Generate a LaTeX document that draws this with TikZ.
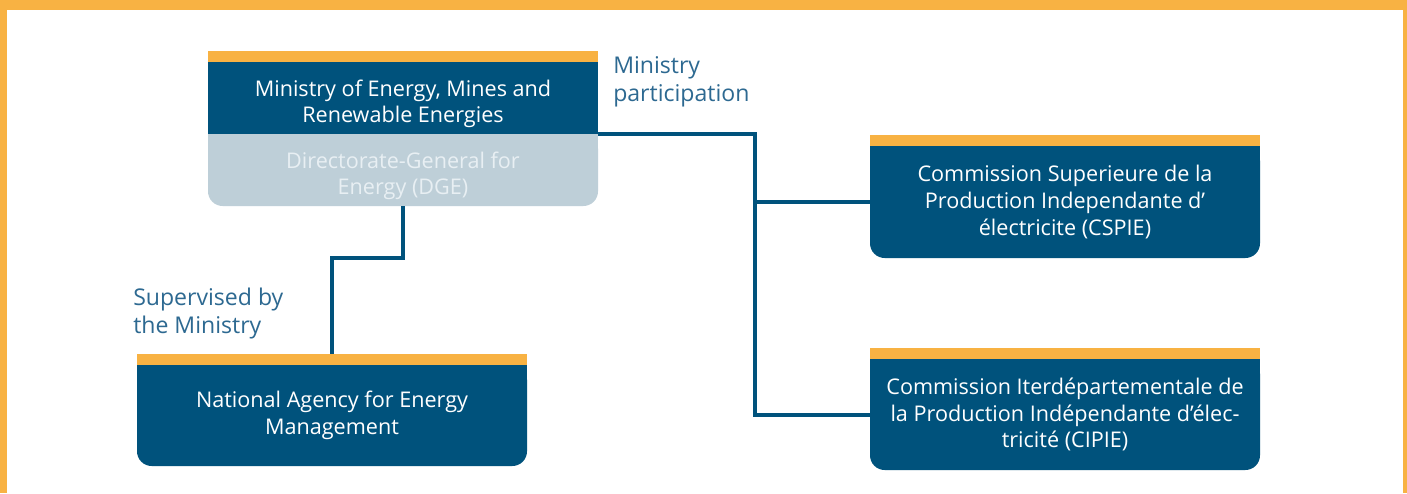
\documentclass[tikz,border=0pt]{standalone}
\usepackage{fontspec}
\setmainfont{Open Sans}
\usetikzlibrary{positioning, calc, backgrounds}

\definecolor{cardblue}{RGB}{0,82,124}
\definecolor{barorange}{RGB}{248,178,67}
\definecolor{dgegrey}{RGB}{190,207,216}
\definecolor{dgetext}{RGB}{232,239,243}
\definecolor{notecolor}{RGB}{45,105,145}

\newcommand{\dropline}{\rule{0pt}{21pt}}

\pgfdeclarelayer{frame}
\pgfsetlayers{frame,background,main}

\begin{document}
\begin{tikzpicture}[x=0.75pt, y=-0.75pt,
    card/.style={minimum width=292.5pt, inner sep=0pt, outer sep=0pt, align=center, text=white, font=\fontsize{16.2}{20}\selectfont},
    topbar/.style={fill=barorange, minimum width=292.5pt, minimum height=8.5pt, inner sep=0pt, outer sep=0pt},
    note/.style={align=left, inner sep=0pt, text=notecolor, font=\fontsize{17.3}{21}\selectfont},
    link/.style={draw=cardblue, line width=3pt}]
    % frame
    \begin{pgfonlayer}{frame}
        \fill[barorange] (0,0) rectangle (1407,493);
        \fill[white] (7,10) rectangle (1403,493);
    \end{pgfonlayer}
    \useasboundingbox (0,0) rectangle (1407,493);

    % boxes
    \node[card, fill=cardblue, minimum height=54pt] (ministry) at (403,98) {\dropline Ministry of Energy, Mines and\\Renewable Energies};
    \node[card, minimum height=54pt, below=0pt of ministry, text=dgetext] (dge) {\dropline Directorate-General for\\Energy (DGE)};
    \node[card, minimum height=84pt] (cspie) at (1065,202) {Commission Superieure de la\\Production Independante d’\\électricite (CSPIE)};
    \node[card, minimum height=83.25pt] (cipie) at (1065,414.5) {Commission Iterdépartementale de\\la Production Indépendante d’élec-\\tricité (CIPIE)};
    \node[card, minimum height=75.75pt] (naem) at (332,415.5) {National Agency for Energy\\Management};

    \node[topbar, above=0pt of ministry] (ministrybar) {};
    \node[topbar, above=0pt of cspie] (cspiebar) {};
    \node[topbar, above=0pt of cipie] (cipiebar) {};
    \node[topbar, above=0pt of naem] (naembar) {};

    \begin{scope}[on background layer]
        \fill[dgegrey, rounded corners=11pt] (dge.north west) rectangle (dge.south east);
        \fill[dgegrey] (dge.north west) rectangle (dge.east);
        \foreach \n in {cspie, cipie, naem} {
            \fill[cardblue, rounded corners=11pt] (\n.north west) rectangle (\n.south east);
            \fill[cardblue] (\n.north west) rectangle (\n.east);
        }
    \end{scope}

    % labels
    \node[note, anchor=north west] (partlabel) at (613,56) {Ministry\\participation};
    \node[note, anchor=north west] (suplabel) at (133,288) {Supervised by\\the Ministry};

    % connectors
    \coordinate (trunk) at (755,134);
    \draw[link] (ministry.south east) -- (trunk) |- (cipie.west);
    \draw[link] (trunk |- cspie.west) -- (cspie.west);
    \draw[link] (dge.south) -- ++(0,52) -| (naembar.north);
\end{tikzpicture}
\end{document}
